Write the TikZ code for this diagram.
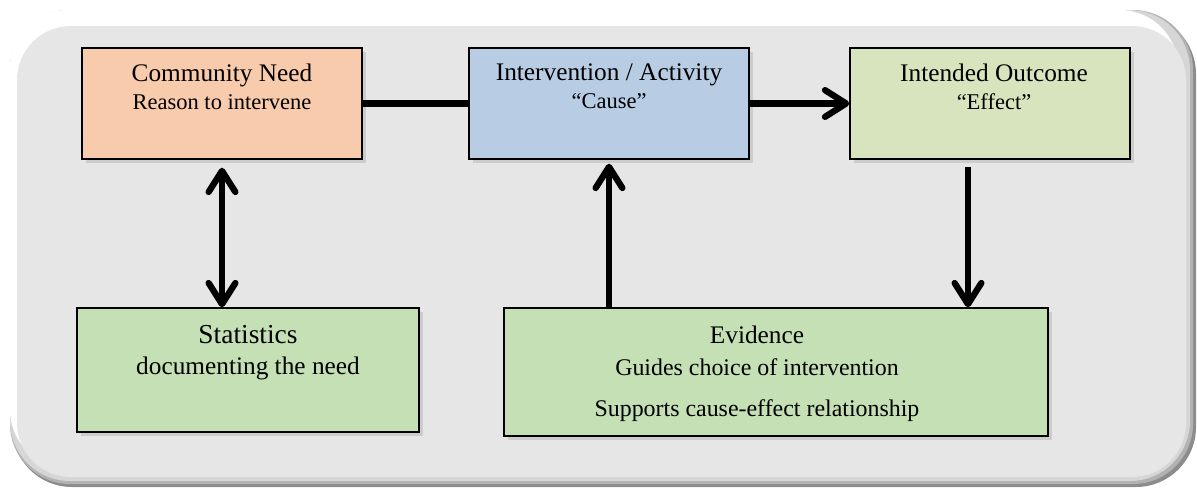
\documentclass[tikz,border=0pt]{standalone}
\usepackage{fontspec}
\setmainfont{Liberation Serif}
\usepackage{xcolor}
\usepackage{tikz}
\usetikzlibrary{arrows.meta, positioning, shadows}
\definecolor{needfill}{RGB}{248, 203, 173}
\definecolor{actfill}{RGB}{184, 204, 228}
\definecolor{outfill}{RGB}{215, 228, 189}
\definecolor{greenfill}{RGB}{197, 224, 180}
\definecolor{bgfill}{RGB}{231, 230, 230}
\tikzstyle{box} = [rectangle, draw=black, line width=1pt, fill=greenfill, drop shadow={shadow xshift=3pt, shadow yshift=-3pt, opacity=0.25}]
\tikzstyle{boxtext} = [inner sep=0pt, align=center]
\tikzstyle{link} = [line width=4.5pt]
\tikzstyle{arrow} = [line width=4.5pt, -{Straight Barb[length=15pt, width=19pt, round]}]
\tikzstyle{dblarrow} = [line width=4.5pt, {Straight Barb[length=15pt, width=19pt, round]}-{Straight Barb[length=15pt, width=19pt, round]}]

\begin{document}
\begin{tikzpicture}[x=0.025cm, y=-0.025cm]
    \useasboundingbox (0,0) rectangle (1197,488);

    % Frame
    \fill[black!45, rounded corners=1.5cm] (12,14) rectangle (1196,487);
    \fill[black!30, rounded corners=1.5cm] (10,10) rectangle (1193,484);
    \fill[black!16, rounded corners=1.5cm] (10,10) rectangle (1190,481);
    \fill[white, rounded corners=1.45cm] (10,10) rectangle (1178,468);
    \fill[bgfill, rounded corners=1.35cm] (17,26) rectangle (1186,477);

    % Top row
    \node[box, fill=needfill, minimum width=7cm, minimum height=2.775cm] (need) at (222, 103.5) {};
    \node[box, fill=actfill, minimum width=7cm, minimum height=2.775cm] (act) at (609, 103.5) {};
    \node[box, fill=outfill, minimum width=7cm, minimum height=2.775cm] (outc) at (990, 103.5) {};

    \node[boxtext, below=0.41cm of need.north, font=\fontsize{18}{19.6}\selectfont] (need-txt)
        {Community Need\\{\fontsize{16}{19.6}\selectfont Reason to intervene}};
    \node[boxtext, below=0.41cm of act.north, font=\fontsize{18}{19.6}\selectfont] (act-txt)
        {Intervention / Activity\\{\fontsize{16}{19.6}\selectfont ``Cause''}};
    \node[boxtext, below=0.41cm of outc.north, xshift=0.1cm, font=\fontsize{18}{19.6}\selectfont] (outc-txt)
        {Intended Outcome\\{\fontsize{16}{19.6}\selectfont ``Effect''}};

    % Bottom row
    \node[box, minimum width=8.55cm, minimum height=3.1cm] (stats) at (248, 370) {};
    \node[box, minimum width=13.6cm, minimum height=3.2cm] (evid) at (776, 372) {};

    \node[boxtext, below=0.45cm of stats.north, font=\fontsize{19.5}{22}\selectfont] (stats-txt)
        {Statistics\\{\fontsize{18}{22}\selectfont documenting the need}};
    \node[boxtext, below=0.45cm of evid.north, xshift=-0.475cm, font=\fontsize{18}{22.7}\selectfont] (evid-txt)
        {Evidence\\{\fontsize{17}{22.7}\selectfont Guides choice of intervention}\\[7pt]{\fontsize{17}{22.7}\selectfont Supports cause-effect relationship}};

    % Arrows
    \draw[link] (need.east) -- (act.west);
    \draw[arrow] (act.east) -- (outc.west);
    \draw[dblarrow] ([yshift=-0.2cm]need.south) -- (need.south |- stats.north);
    \draw[arrow] (act.south |- evid.north) -- ([yshift=-0.1cm]act.south);
    \draw[arrow] ([xshift=-0.55cm, yshift=-0.18cm]outc.south) -- ([xshift=-0.55cm]outc.south |- evid.north);
\end{tikzpicture}
\end{document}
